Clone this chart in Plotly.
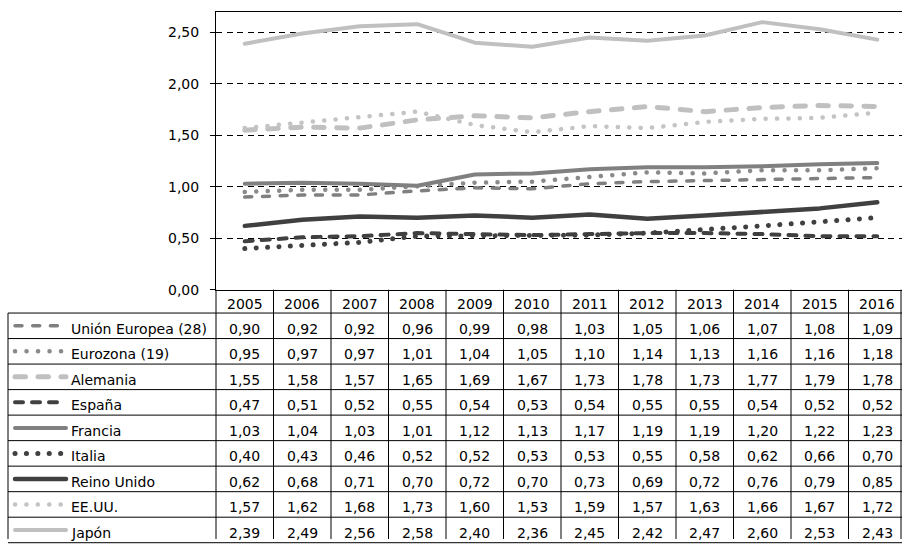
import plotly.graph_objects as go

# ---- data -------------------------------------------------------------
years = [2005, 2006, 2007, 2008, 2009, 2010, 2011, 2012, 2013, 2014, 2015, 2016]

series_names = ["Unión Europea (28)", "Eurozona (19)", "Alemania", "España",
                "Francia", "Italia", "Reino Unido", "EE.UU.", "Japón"]

ue = [0.90, 0.92, 0.92, 0.96, 0.99, 0.98, 1.03, 1.05, 1.06, 1.07, 1.08, 1.09]
eurozona = [0.95, 0.97, 0.97, 1.01, 1.04, 1.05, 1.10, 1.14, 1.13, 1.16, 1.16, 1.18]
alemania = [1.55, 1.58, 1.57, 1.65, 1.69, 1.67, 1.73, 1.78, 1.73, 1.77, 1.79, 1.78]
espana = [0.47, 0.51, 0.52, 0.55, 0.54, 0.53, 0.54, 0.55, 0.55, 0.54, 0.52, 0.52]
francia = [1.03, 1.04, 1.03, 1.01, 1.12, 1.13, 1.17, 1.19, 1.19, 1.20, 1.22, 1.23]
italia = [0.40, 0.43, 0.46, 0.52, 0.52, 0.53, 0.53, 0.55, 0.58, 0.62, 0.66, 0.70]
reino_unido = [0.62, 0.68, 0.71, 0.70, 0.72, 0.70, 0.73, 0.69, 0.72, 0.76, 0.79, 0.85]
eeuu = [1.57, 1.62, 1.68, 1.73, 1.60, 1.53, 1.59, 1.57, 1.63, 1.66, 1.67, 1.72]
japon = [2.39, 2.49, 2.56, 2.58, 2.40, 2.36, 2.45, 2.42, 2.47, 2.60, 2.53, 2.43]

y_ticks = [0.0, 0.5, 1.0, 1.5, 2.0, 2.5]

values = [ue, eurozona, alemania, espana, francia, italia, reino_unido, eeuu, japon]

# ---- styles (colour, width, dash) ---------------------------------------
styles = [
    ("#808080", 3.5, "7px,10.7px"),
    ("#8a8a8a", 4.5, "0.1px,11.4px"),
    ("#c0c0c0", 5.0, "10.5px,12.5px"),
    ("#404040", 4.0, "8px,9px"),
    ("#808080", 4.0, "solid"),
    ("#404040", 5.0, "0.1px,11.3px"),
    ("#404040", 4.5, "solid"),
    ("#c4c4c4", 4.5, "0.1px,11.3px"),
    ("#c0c0c0", 4.0, "solid"),
]

# ---- geometry (pixels) --------------------------------------------------
W, H = 902, 545
PLOT_L, PLOT_T, PLOT_B = 216, 12, 294
COL_W = 57.5
HEAD_B = 317.7
ROW_H = 25.9
TABLE_L = 8
TABLE_R = 901
KEY_X0, KEY_X1 = 15, 66
NAME_X = 69
TEXT_SHIFT = -3
FONT = "DejaVu Sans"
FS = 14


def px(x):
    return x / W


def py(y):
    return 1 - y / H


fig = go.Figure()

idx = list(range(len(years)))
for name, vals, (col, lw, dash) in zip(series_names, values, styles):
    fig.add_trace(go.Scatter(
        x=idx, y=vals, mode="lines", name=name,
        line=dict(color=col, width=lw, dash=dash),
        hoverinfo="skip", showlegend=False,
        xaxis="x", yaxis="y",
    ))

# legend keys inside the data table (overlay axes in pixel units)
for r, (name, (col, lw, dash)) in enumerate(zip(series_names, styles)):
    yc = HEAD_B + (r + 0.5) * ROW_H
    fig.add_trace(go.Scatter(
        x=[KEY_X0, KEY_X1], y=[yc, yc], mode="lines",
        line=dict(color=col, width=lw, dash=dash),
        hoverinfo="skip", showlegend=False,
        xaxis="x2", yaxis="y2",
    ))

shapes = []
line_style = dict(color="black", width=1)

# horizontal table rules
for j in range(len(series_names) + 1):
    yy = HEAD_B + j * ROW_H
    shapes.append(dict(type="line", xref="paper", yref="paper",
                       x0=px(TABLE_L), x1=px(TABLE_R + 1), y0=py(yy), y1=py(yy),
                       line=line_style))
# vertical table rules
for k in range(len(years) + 1):
    xx = PLOT_L + k * COL_W
    if xx > TABLE_R:
        xx = TABLE_R
    shapes.append(dict(type="line", xref="paper", yref="paper",
                       x0=px(xx), x1=px(xx), y0=py(PLOT_B), y1=py(H + 2),
                       line=line_style))
shapes.append(dict(type="line", xref="paper", yref="paper",
                   x0=px(TABLE_L), x1=px(TABLE_L), y0=py(HEAD_B), y1=py(H + 2),
                   line=line_style))

cell_font = dict(family=FONT, size=FS, color="black")
annotations = []
for k, yr in enumerate(years):
    xc = PLOT_L + (k + 0.5) * COL_W
    annotations.append(dict(xref="paper", yref="paper", x=px(xc),
                            y=py((PLOT_B + HEAD_B) / 2), text=str(yr),
                            showarrow=False, xanchor="center", yanchor="middle",
                            yshift=TEXT_SHIFT, font=cell_font))
    for r, vals in enumerate(values):
        yc = HEAD_B + (r + 0.5) * ROW_H
        annotations.append(dict(xref="paper", yref="paper", x=px(xc), y=py(yc),
                                text=f"{vals[k]:.2f}".replace(".", ","),
                                showarrow=False, xanchor="center", yanchor="middle",
                                yshift=TEXT_SHIFT, font=cell_font))
for r, name in enumerate(series_names):
    yc = HEAD_B + (r + 0.5) * ROW_H
    annotations.append(dict(xref="paper", yref="paper", x=px(NAME_X), y=py(yc),
                            text=name, showarrow=False, xanchor="left",
                            yanchor="middle", yshift=TEXT_SHIFT, font=cell_font))

x_right = -0.5 + (W - PLOT_L) / COL_W

fig.update_layout(
    width=W, height=H,
    margin=dict(l=0, r=0, t=0, b=0),
    paper_bgcolor="white", plot_bgcolor="rgba(0,0,0,0)",
    separators=",.",
    font=dict(family=FONT, size=FS, color="black"),
    xaxis=dict(domain=[px(PLOT_L), 1], range=[-0.5, x_right],
               showgrid=False, zeroline=False, showticklabels=False,
               ticks="", showline=True, mirror=True,
               linecolor="black", linewidth=1, fixedrange=True),
    yaxis=dict(domain=[py(PLOT_B), py(PLOT_T)], range=[0, 2.7],
               tickvals=y_ticks, tickformat=".2f",
               showgrid=True, gridcolor="black", gridwidth=1,
               griddash="6px,4.5px", zeroline=False,
               ticks="outside", ticklen=5, tickcolor="black",
               ticklabelstandoff=8,
               showline=True, linecolor="black", linewidth=1,
               tickfont=cell_font, fixedrange=True),
    xaxis2=dict(domain=[0, 1], range=[0, W], visible=False,
                anchor="y2", fixedrange=True),
    yaxis2=dict(domain=[0, 1], range=[H, 0], visible=False,
                anchor="x2", fixedrange=True),
    shapes=shapes,
    annotations=annotations,
    showlegend=False,
)

round_caps = (
    "document.querySelectorAll('.scatterlayer path.js-line').forEach("
    "function(p){p.style.strokeLinecap='round';p.style.strokeLinejoin='round';});"
)

fig.write_html("out.html", post_script=round_caps,
               config={"displayModeBar": False})
